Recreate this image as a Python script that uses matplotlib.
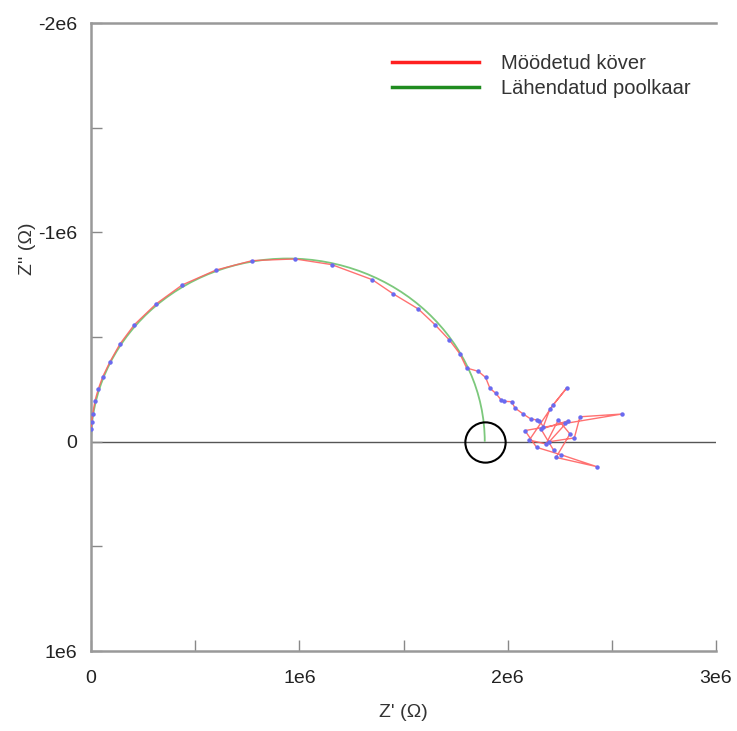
"""
Nyquisti graafik: mõõdetud impedantsikõver ja lähendatud poolkaar.
Salvestatakse faili 'out.png'.
"""

import matplotlib
matplotlib.use("Agg")
import matplotlib.pyplot as plt
from matplotlib.patches import Arc

# mõõdetud punktid (Z', Z'') ühikutes 1e6 oomi
Z_RE = [0.0, 0.003, 0.008, 0.019, 0.035, 0.056, 0.091, 0.139, 0.208, 0.312,
        0.438, 0.600, 0.774, 0.979, 1.155, 1.350, 1.451, 1.571, 1.651, 1.720,
        1.771, 1.803, 1.859, 1.894, 1.915, 1.943, 1.968, 1.984, 2.019, 2.035,
        2.075, 2.110, 2.139, 2.152, 2.171, 2.203, 2.283, 2.219, 2.104, 2.184,
        2.243, 2.299, 2.232, 2.427, 2.255, 2.139, 2.083, 2.275, 2.547, 2.347,
        2.320, 2.200, 2.291, 2.160, 2.220]
Z_IM = [-0.060, -0.092, -0.130, -0.196, -0.252, -0.310, -0.382, -0.467, -0.559, -0.658,
        -0.749, -0.820, -0.865, -0.873, -0.846, -0.774, -0.706, -0.634, -0.559, -0.486,
        -0.419, -0.352, -0.336, -0.307, -0.255, -0.231, -0.200, -0.193, -0.191, -0.161,
        -0.132, -0.109, -0.104, -0.100, -0.072, -0.156, -0.256, -0.177, -0.008, 0.011,
        -0.104, -0.037, 0.075, 0.119, 0.062, 0.027, -0.053, -0.087, -0.132, -0.119,
        -0.018, 0.000, -0.100, -0.060, 0.040]

# lähendatud poolkaare parameetrid (1e6 oomi)
ARC_KESKPUNKT = (0.945, 0.0)
ARC_LAIUS = 1.89
ARC_KORGUS = 1.75
R_LOPP = 1.89  # ringiga tähistatud punkt

SKAALA = 1e6


def main():
    plt.rcParams["font.family"] = ["Liberation Sans", "DejaVu Sans"]
    fig = plt.figure(figsize=(7.37, 7.31), dpi=100)
    ax = fig.add_axes([0.1235, 0.1094, 0.848, 0.8591])

    x = [v * SKAALA for v in Z_RE]
    y = [v * SKAALA for v in Z_IM]

    # nulljoon
    ax.axhline(0, color="#555555", lw=1.0, zorder=1)

    # lähendatud poolkaar (roheline)
    kaar = Arc((ARC_KESKPUNKT[0] * SKAALA, ARC_KESKPUNKT[1] * SKAALA),
               ARC_LAIUS * SKAALA, ARC_KORGUS * SKAALA,
               theta1=180, theta2=360, color="#7cc87c", lw=1.3, zorder=2)
    ax.add_patch(kaar)

    # mõõdetud kõver (punane) + sinised punktid
    ax.plot(x, y, color="#ff6262", lw=1.0, alpha=0.9, zorder=3)
    ax.plot(x, y, ls="none", marker="o", ms=2.2, color="#6a6af0", zorder=4)

    # ring poolkaare lõpus
    ax.plot([R_LOPP * SKAALA], [0], marker="o", ms=29, mfc="none",
            mec="black", mew=1.5, zorder=5)

    # legendi jooned
    ax.plot([], [], color="#ff2020", lw=2.5, label="Möödetud köver")
    ax.plot([], [], color="#1f8c1f", lw=2.5, label="Lähendatud poolkaar")
    ax.legend(loc="upper right", bbox_to_anchor=(0.988, 0.98), frameon=False,
              fontsize=14.5, handlelength=4.3, handletextpad=1.1,
              labelspacing=0.3, labelcolor="#333333")

    ax.set_xlim(0, 3e6)
    ax.set_ylim(1e6, -2e6)
    ax.set_xticks([0, 1e6, 2e6, 3e6])
    ax.set_xticklabels(["0", "1e6", "2e6", "3e6"])
    ax.set_xticks([0.5e6, 1.5e6, 2.5e6], minor=True)
    ax.set_yticks([1e6, 0, -1e6, -2e6])
    ax.set_yticklabels(["1e6", "0", "-1e6", "-2e6"])
    ax.set_yticks([0.5e6, -0.5e6, -1.5e6], minor=True)

    ax.tick_params(which="both", direction="in", length=8, width=1,
                   color="#888888", labelsize=14, labelcolor="#222222")
    ax.tick_params(axis="x", pad=14)
    ax.tick_params(axis="y", pad=10)

    for side in ("left", "bottom", "top"):
        ax.spines[side].set_color("#999999")
        ax.spines[side].set_linewidth(1.8)
    ax.spines["right"].set_visible(False)

    ax.set_xlabel("Z' (Ω)", fontsize=14, color="#333333", labelpad=12)
    ax.set_ylabel("Z'' (Ω)", fontsize=14, color="#333333")
    ax.yaxis.set_label_coords(-0.088, 0.64)

    fig.savefig("out.png", dpi=100)


if __name__ == "__main__":
    main()
